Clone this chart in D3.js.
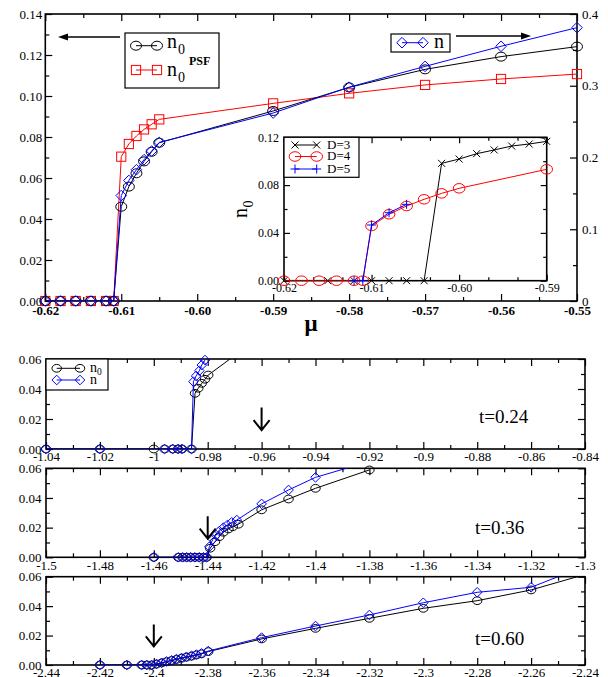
<!DOCTYPE html>
<html>
<head>
<meta charset="utf-8">
<script src="https://cdn.jsdelivr.net/npm/d3@7"></script>
<style>
  body { margin: 0; background: #fff; }
  svg text { font-family: "Liberation Serif", "Times New Roman", serif; }
</style>
</head>
<body>
<script>
// ---- top panel: n0, n0 PSF (left axis) and n (right axis) vs mu
var muX = [-0.62, -0.618, -0.616, -0.614, -0.612, -0.611, -0.61, -0.609, -0.608, -0.607, -0.606, -0.605, -0.59, -0.58, -0.57, -0.56, -0.55];
var n0Top = [0, 0, 0, 0, 0, 0, 0.046, 0.0558, 0.0623, 0.0681, 0.0728, 0.0772, 0.0927, 0.1042, 0.1130, 0.1192, 0.1241];
var n0PSF = [0, 0, 0, 0, 0, 0, 0.0704, 0.0766, 0.0805, 0.0837, 0.0862, 0.0886, 0.0964, 0.1013, 0.1054, 0.1083, 0.1107];
var nTop = [0, 0, 0, 0, 0, 0, 0.147, 0.168, 0.183, 0.197, 0.209, 0.221, 0.262, 0.298, 0.327, 0.355, 0.381];

var topXTicks = [-0.62, -0.61, -0.60, -0.59, -0.58, -0.57, -0.56, -0.55];
var topXLabels = ["-0.62", "-0.61", "-0.60", "-0.59", "-0.58", "-0.57", "-0.56", "-0.55"];
var topYTicks = [0, 0.02, 0.04, 0.06, 0.08, 0.10, 0.12, 0.14];
var topYLabels = ["0.00", "0.02", "0.04", "0.06", "0.08", "0.10", "0.12", "0.14"];
var topY2Ticks = [0, 0.1, 0.2, 0.3, 0.4];
var topY2Labels = ["0", "0.1", "0.2", "0.3", "0.4"];

// ---- inset: n0 for D=3,4,5
var d3X = [-0.62, -0.615, -0.612, -0.61, -0.608, -0.606, -0.604, -0.602, -0.600, -0.598, -0.596, -0.594, -0.592, -0.590];
var d3Y = [0, 0, 0, 0, 0, 0, 0, 0.0982, 0.1018, 0.1063, 0.1094, 0.1127, 0.1144, 0.1166];
var d4X = [-0.62, -0.618, -0.616, -0.614, -0.612, -0.611, -0.61, -0.608, -0.606, -0.604, -0.602, -0.600, -0.590];
var d4Y = [0, 0, 0, 0, 0, 0, 0.0458, 0.0556, 0.0625, 0.0681, 0.0731, 0.0773, 0.0932];
var d5X = [-0.612, -0.611, -0.61, -0.608, -0.606];
var d5Y = [0, 0, 0.0466, 0.0569, 0.0639];

var insXTicks = [-0.62, -0.61, -0.60, -0.59];
var insXLabels = ["-0.62", "-0.61", "-0.60", "-0.59"];
var insYTicks = [0, 0.04, 0.08, 0.12];
var insYLabels = ["0.00", "0.04", "0.08", "0.12"];

// ---- lower panels: n0 and n at three temperatures
var p1X0 = [-1.04, -1.02, -1.0, -0.996, -0.993, -0.991, -0.9895, -0.986, -0.9847, -0.9835, -0.9822, -0.981, -0.9798, -0.96];
var p1n0 = [0, 0, 0, 0, 0, 0, 0, 0, 0.0371, 0.0405, 0.0438, 0.0465, 0.0493, 0.0755];
var p1Xn = [-1.04, -1.02, -0.996, -0.993, -0.991, -0.9895, -0.986, -0.9853, -0.9843, -0.9831, -0.9822, -0.981];
var p1n = [0, 0, 0, 0, 0, 0, 0, 0.0449, 0.0487, 0.0522, 0.056, 0.0593];

var p2X0 = [-1.46, -1.4509, -1.4493, -1.4478, -1.4463, -1.4447, -1.4432, -1.4416, -1.4404, -1.4391, -1.4373, -1.4357, -1.4342, -1.4323, -1.4307, -1.4286, -1.42, -1.41, -1.40, -1.38];
var p2n0 = [0, 0, 0, 0, 0, 0, 0, 0, 0, 0.0061, 0.0105, 0.0139, 0.0169, 0.0191, 0.0206, 0.0223, 0.032, 0.0393, 0.0465, 0.0589];
var p2Xn = [-1.46, -1.4509, -1.4493, -1.4478, -1.4463, -1.4447, -1.4432, -1.4416, -1.4404, -1.4394, -1.4381, -1.4369, -1.4357, -1.4342, -1.4327, -1.4311, -1.4292, -1.42, -1.41, -1.40, -1.38];
var p2n = [0, 0, 0, 0, 0, 0, 0, 0, 0, 0.0071, 0.0121, 0.015, 0.0177, 0.02, 0.0218, 0.0236, 0.0251, 0.036, 0.0454, 0.0539, 0.0646];

var p3X = [-2.42, -2.41, -2.4045, -2.4026, -2.4008, -2.399, -2.3971, -2.3953, -2.3934, -2.3916, -2.3897, -2.3879, -2.386, -2.3842, -2.3823, -2.3798, -2.36, -2.34, -2.32, -2.30, -2.28, -2.26, -2.24];
var p3n0 = [0, 0, 0, 0, 0, 0.0006, 0.0014, 0.0022, 0.003, 0.0038, 0.0046, 0.0053, 0.006, 0.0068, 0.0076, 0.0091, 0.0177, 0.0249, 0.0317, 0.0385, 0.0437, 0.051, 0.0615];
var p3n = [0, 0, 0, 0, 0, 0.0007, 0.0015, 0.0024, 0.0032, 0.004, 0.0048, 0.0056, 0.0063, 0.0071, 0.0079, 0.0095, 0.0186, 0.0265, 0.034, 0.0423, 0.0494, 0.0528, 0.0672];

var lowYTicks = [0, 0.02, 0.04, 0.06];
var lowYLabels = ["0.00", "0.02", "0.04", "0.06"];
var p1XLabels = ["-1.04", "-1.02", "-1", "-0.98", "-0.96", "-0.94", "-0.92", "-0.9", "-0.88", "-0.86", "-0.84"];
var p2XLabels = ["-1.5", "-1.48", "-1.46", "-1.44", "-1.42", "-1.4", "-1.38", "-1.36", "-1.34", "-1.32", "-1.3"];
var p3XLabels = ["-2.44", "-2.42", "-2.4", "-2.38", "-2.36", "-2.34", "-2.32", "-2.3", "-2.28", "-2.26", "-2.24"];
var tLabels = ["t=0.24", "t=0.36", "t=0.60"];
var arrowX = [-0.96, -1.44, -2.40];

var RED = "#ff0000", BLUE = "#0000ff", BLACK = "#000000";

var svg = d3.select("body").append("svg")
  .attr("width", 608)
  .attr("height", 677);

var clipCount = 0;
function makePanel(box, xDom, yDom) {
  var x = d3.scaleLinear().domain(xDom).range([box.left, box.right]);
  var y = d3.scaleLinear().domain(yDom).range([box.bottom, box.top]);
  var id = "clip" + (clipCount++);
  svg.append("clipPath").attr("id", id).append("rect")
    .attr("x", box.left).attr("y", box.top)
    .attr("width", box.right - box.left).attr("height", box.bottom - box.top);
  return { x: x, y: y, box: box, clip: "url(#" + id + ")" };
}

function mids(ticks, parts) {
  var out = [];
  for (var i = 0; i < ticks.length - 1; i++)
    for (var k = 1; k < parts; k++) out.push(ticks[i] + (ticks[i + 1] - ticks[i]) * k / parts);
  return out;
}

function axis(gen, tr, vals, len, labels, font) {
  var g = svg.append("g").attr("transform", tr)
    .call(gen.tickValues(vals).tickSize(-len).tickPadding(font ? font.pad : 0)
      .tickFormat(function(d, i) { return labels ? labels[i] : ""; }));
  g.select(".domain").remove();
  g.attr("font-family", "Liberation Serif").attr("font-size", null);
  g.selectAll(".tick line").attr("stroke", BLACK).attr("stroke-width", 1.2);
  if (font) g.selectAll("text").attr("font-size", font.size)
    .attr("font-weight", font.weight || "normal").attr("fill", BLACK);
  return g;
}

function frame(p, o) {
  var b = p.box;
  if (o.bg) svg.append("rect").attr("x", b.left).attr("y", b.top)
    .attr("width", b.right - b.left).attr("height", b.bottom - b.top).attr("fill", "#fff");
  var yr = o.y2 || p.y;
  var y2t = o.y2t || o.yt, y2m = o.y2m || o.ym;
  axis(d3.axisBottom(p.x), "translate(0," + b.bottom + ")", o.xt, o.maj, o.xl, o.xf);
  axis(d3.axisBottom(p.x), "translate(0," + b.bottom + ")", o.xm, o.min);
  axis(d3.axisTop(p.x), "translate(0," + b.top + ")", o.xt, o.maj);
  axis(d3.axisTop(p.x), "translate(0," + b.top + ")", o.xm, o.min);
  axis(d3.axisLeft(p.y), "translate(" + b.left + ",0)", o.yt, o.maj, o.yl, o.yf);
  axis(d3.axisLeft(p.y), "translate(" + b.left + ",0)", o.ym, o.min);
  axis(d3.axisRight(yr), "translate(" + b.right + ",0)", y2t, o.maj, o.y2l, o.y2f);
  axis(d3.axisRight(yr), "translate(" + b.right + ",0)", y2m, o.min);
  svg.append("rect").attr("x", b.left).attr("y", b.top)
    .attr("width", b.right - b.left).attr("height", b.bottom - b.top)
    .attr("fill", "none").attr("stroke", BLACK).attr("stroke-width", 1.6);
}

function drawMarker(g, shape, px, py, s) {
  if (shape === "circle")
    g.append("ellipse").attr("cx", px).attr("cy", py).attr("rx", s * 1.1).attr("ry", s * 0.9);
  else if (shape === "square")
    g.append("rect").attr("x", px - s).attr("y", py - s).attr("width", 2 * s).attr("height", 2 * s);
  else if (shape === "diamond")
    g.append("path").attr("d", "M" + px + "," + (py - s) + "L" + (px + s) + "," + py + "L" + px + "," + (py + s) + "L" + (px - s) + "," + py + "Z");
  else if (shape === "x")
    g.append("path").attr("d", "M" + (px - s) + "," + (py - s) + "L" + (px + s) + "," + (py + s) + "M" + (px - s) + "," + (py + s) + "L" + (px + s) + "," + (py - s));
  else if (shape === "plus")
    g.append("path").attr("d", "M" + (px - s) + "," + py + "L" + (px + s) + "," + py + "M" + px + "," + (py - s) + "L" + px + "," + (py + s));
}

function series(p, y, xs, ys, o) {
  var pts = xs.map(function(d, i) { return [d, ys[i]]; });
  svg.append("path").datum(pts)
    .attr("clip-path", p.clip)
    .attr("d", d3.line().x(function(d) { return p.x(d[0]); }).y(function(d) { return y(d[1]); }))
    .attr("fill", "none").attr("stroke", o.color).attr("stroke-width", 1);
  var yMax = y.domain()[1], xMax = p.x.domain()[1];
  var m = svg.append("g").attr("fill", "none").attr("stroke", o.color).attr("stroke-width", 1);
  pts.filter(function(d) { return d[1] <= yMax + 1e-9 && d[0] <= xMax + 1e-9; })
    .forEach(function(d) { drawMarker(m, o.shape, p.x(d[0]), y(d[1]), o.size); });
}

function legendRow(x1, x2, y, color, shape, s) {
  svg.append("line").attr("x1", x1).attr("x2", x2).attr("y1", y).attr("y2", y)
    .attr("stroke", color).attr("stroke-width", 1);
  var m = svg.append("g").attr("fill", "none").attr("stroke", color).attr("stroke-width", 1);
  drawMarker(m, shape, x1, y, s);
  drawMarker(m, shape, x2, y, s);
}

function txt(x, y, s, size, opts) {
  opts = opts || {};
  return svg.append("text").attr("x", x).attr("y", y).attr("font-size", size)
    .attr("font-weight", opts.weight || "normal").attr("text-anchor", opts.anchor || "start")
    .attr("fill", BLACK).text(s);
}

// ================= top panel =================
var mainP = makePanel({ left: 45.3, right: 577, top: 14, bottom: 301 }, [-0.62, -0.55], [0, 0.14]);
var yRight = d3.scaleLinear().domain([0, 0.4]).range([301, 14]);
frame(mainP, {
  maj: 7, min: 4,
  xt: topXTicks, xl: topXLabels, xm: mids(topXTicks, 2), xf: { size: 13, weight: "bold", pad: 5 },
  yt: topYTicks, yl: topYLabels, ym: mids(topYTicks, 2), yf: { size: 13, pad: 3 },
  y2: yRight, y2t: topY2Ticks, y2l: topY2Labels, y2m: mids(topY2Ticks, 2), y2f: { size: 13, pad: 5 }
});
series(mainP, mainP.y, muX, n0PSF, { color: RED, shape: "square", size: 4.6 });
series(mainP, mainP.y, muX, n0Top, { color: BLACK, shape: "circle", size: 5 });
series(mainP, yRight, muX, nTop, { color: BLUE, shape: "diamond", size: 5.3 });

// legends and arrows of the top panel
svg.append("rect").attr("x", 125).attr("y", 33).attr("width", 94).attr("height", 55)
  .attr("fill", "#fff").attr("stroke", BLACK).attr("stroke-width", 1.2);
legendRow(136, 157, 45.7, BLACK, "circle", 5);
legendRow(136, 157, 70, RED, "square", 4.6);
txt(167, 48, "n", 20);
txt(178, 54, "0", 14);
txt(189, 64.5, "PSF", 12, { weight: "bold" });
txt(167, 76, "n", 20);
txt(178, 82, "0", 14);

svg.append("line").attr("x1", 120).attr("x2", 66).attr("y1", 37).attr("y2", 37)
  .attr("stroke", BLACK).attr("stroke-width", 1.3);
svg.append("path").attr("d", "M58,37L68,33.5L68,40.5Z").attr("fill", BLACK);

svg.append("rect").attr("x", 391).attr("y", 34).attr("width", 59).attr("height", 18)
  .attr("fill", "#fff").attr("stroke", BLACK).attr("stroke-width", 1.2);
legendRow(402, 423, 42.7, BLUE, "diamond", 5.3);
txt(434, 47.5, "n", 20);
svg.append("line").attr("x1", 456).attr("x2", 522).attr("y1", 36).attr("y2", 36)
  .attr("stroke", BLACK).attr("stroke-width", 1.3);
svg.append("path").attr("d", "M531,36L521,32.5L521,39.5Z").attr("fill", BLACK);

txt(311, 331, "\u03bc", 23, { weight: "bold", anchor: "middle" });

// ================= inset =================
var ins = makePanel({ left: 284, right: 546.7, top: 137.3, bottom: 280.7 }, [-0.62, -0.59], [0, 0.12]);
frame(ins, {
  bg: true, maj: 6, min: 3.5,
  xt: insXTicks, xl: insXLabels, xm: mids(insXTicks, 3), xf: { size: 12, pad: 3 },
  yt: insYTicks, yl: insYLabels, ym: mids(insYTicks, 2), yf: { size: 12, pad: 5 }
});
series(ins, ins.y, d3X, d3Y, { color: BLACK, shape: "x", size: 3.5 });
series(ins, ins.y, d4X, d4Y, { color: RED, shape: "circle", size: 5.3 });
series(ins, ins.y, d5X, d5Y, { color: BLUE, shape: "plus", size: 4.5 });

svg.append("rect").attr("x", 284).attr("y", 137.3).attr("width", 75).attr("height", 40)
  .attr("fill", "#fff").attr("stroke", BLACK).attr("stroke-width", 1.2);
legendRow(295, 316.7, 145, BLACK, "x", 3.5);
legendRow(295, 316.7, 156.5, RED, "circle", 5.3);
legendRow(295, 316.7, 169, BLUE, "plus", 4.5);
txt(327, 148.5, "D=3", 13);
txt(327, 160, "D=4", 13);
txt(327, 172.7, "D=5", 13);

var lab = svg.append("g").attr("transform", "translate(247,218) rotate(-90)");
lab.append("text").attr("x", 0).attr("y", 0).attr("font-size", 20).text("n");
lab.append("text").attr("x", 10.5).attr("y", 6).attr("font-size", 14).text("0");

// ================= lower panels =================
function lowPanel(box, xTicks, xLabels) {
  var p = makePanel(box, [xTicks[0], xTicks[xTicks.length - 1]], [0, 0.06]);
  frame(p, {
    maj: 7, min: 4,
    xt: xTicks, xl: xLabels, xm: mids(xTicks, 2), xf: { size: 13, pad: 3 },
    yt: lowYTicks, yl: lowYLabels, ym: mids(lowYTicks, 2), yf: { size: 13, pad: 4.5 }
  });
  return p;
}

function downArrow(p, v) {
  var px = p.x(v), b = p.box;
  var y1 = b.top + 0.54 * (b.bottom - b.top), y2 = b.top + 0.79 * (b.bottom - b.top);
  svg.append("path")
    .attr("d", "M" + px + "," + y1 + "L" + px + "," + y2 + "M" + (px - 8) + "," + (y2 - 10) + "L" + px + "," + y2 + "L" + (px + 8) + "," + (y2 - 10))
    .attr("fill", "none").attr("stroke", BLACK).attr("stroke-width", 2);
}

var p1Ticks = p1XLabels.map(Number);
var p2Ticks = p2XLabels.map(Number);
var p3Ticks = p3XLabels.map(Number);

var p1 = lowPanel({ left: 46, right: 585, top: 359, bottom: 449 }, p1Ticks, p1XLabels);
series(p1, p1.y, p1X0, p1n0, { color: BLACK, shape: "circle", size: 4.3 });
series(p1, p1.y, p1Xn, p1n, { color: BLUE, shape: "diamond", size: 4.8 });
downArrow(p1, arrowX[0]);
txt(479, 423, tLabels[0], 19);

svg.append("rect").attr("x", 46).attr("y", 359).attr("width", 62).attr("height", 31)
  .attr("fill", "#fff").attr("stroke", BLACK).attr("stroke-width", 1.2);
legendRow(56.7, 80, 368.3, BLACK, "circle", 4.3);
legendRow(56.7, 80, 380, BLUE, "diamond", 4.8);
txt(90, 371.5, "n", 14);
txt(97, 375, "0", 9.5);
txt(90, 383.5, "n", 14);

var p2 = lowPanel({ left: 46, right: 585, top: 468.3, bottom: 557.3 }, p2Ticks, p2XLabels);
series(p2, p2.y, p2X0, p2n0, { color: BLACK, shape: "circle", size: 4.3 });
series(p2, p2.y, p2Xn, p2n, { color: BLUE, shape: "diamond", size: 4.8 });
downArrow(p2, arrowX[1]);
txt(475, 534, tLabels[1], 19);

var p3 = lowPanel({ left: 46, right: 585, top: 576.7, bottom: 665 }, p3Ticks, p3XLabels);
series(p3, p3.y, p3X, p3n0, { color: BLACK, shape: "circle", size: 4.3 });
series(p3, p3.y, p3X, p3n, { color: BLUE, shape: "diamond", size: 4.8 });
downArrow(p3, arrowX[2]);
txt(475, 645, tLabels[2], 19);
</script>
</body>
</html>
